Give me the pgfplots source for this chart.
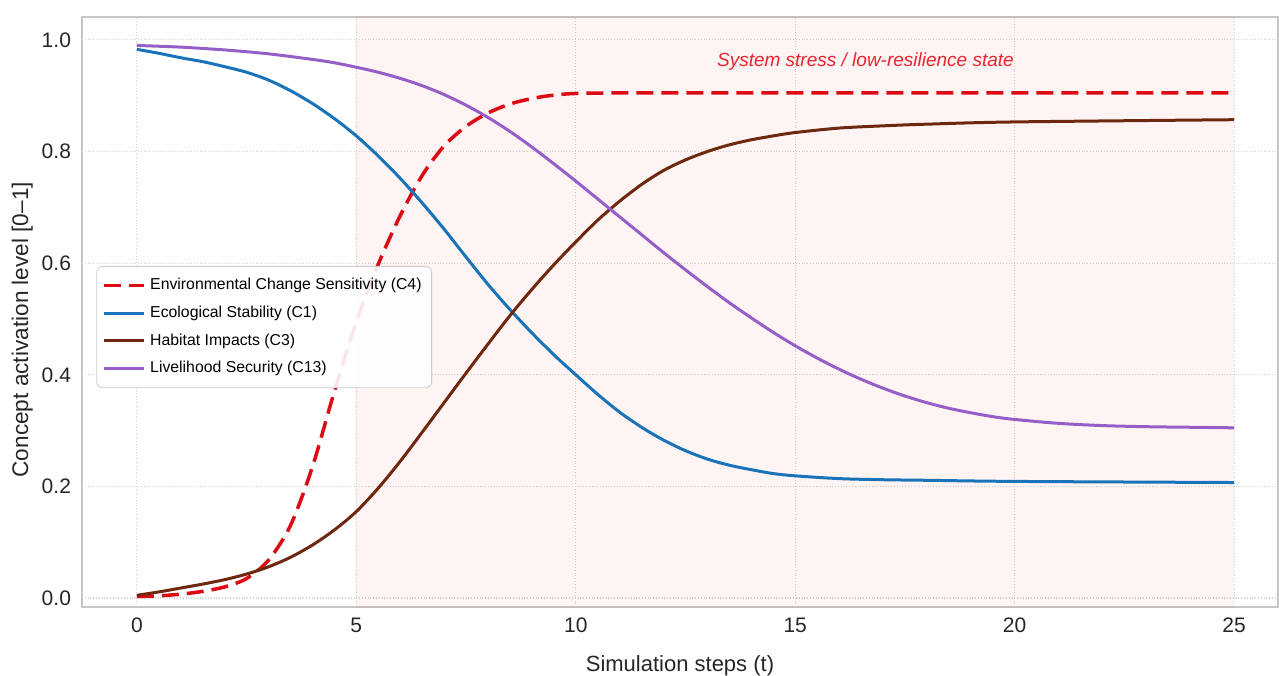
\documentclass[border=0pt]{standalone}
\usepackage{fontspec}
\setmainfont{Liberation Sans}
\usepackage{pgfplots}
\pgfplotsset{compat=1.18}
\definecolor{cRed}{RGB}{220,10,20}
\definecolor{cBlue}{RGB}{25,115,185}
\definecolor{cBrown}{RGB}{110,40,15}
\definecolor{cPurple}{RGB}{150,95,200}
\definecolor{cText}{RGB}{235,35,45}
\begin{document}
\begin{tikzpicture}
\begin{axis}[
  scale only axis, width=598pt, height=295pt,
  xmin=-1.25, xmax=26, ymin=-0.016, ymax=1.041,
  xtick={0,5,10,15,20,25}, ytick={0,0.2,0.4,0.6,0.8,1.0},
  /pgf/number format/assume math mode=true,
  tick style={draw=none},
  grid=major, grid style={densely dotted, gray!35, line width=0.6pt},
  axis line style={gray!45, line width=0.9pt},
  ticklabel style={font=\fontsize{10.5}{12}\selectfont, text=black!85},
  xticklabel style={yshift=-2pt},
  yticklabel style={/pgf/number format/fixed, /pgf/number format/fixed zerofill, /pgf/number format/precision=1, xshift=-2pt},
  xlabel={Simulation steps (t)}, ylabel={Concept activation level [0–1]},
  label style={font=\fontsize{11}{13}\selectfont, text=black!85},
  xlabel style={at={(axis description cs:0.5,0)}, anchor=center, yshift=-29.5pt},
  ylabel style={at={(axis description cs:-0.05,0.47)}, anchor=center, font=\fontsize{11.3}{13}\selectfont},
  legend cell align=left,
  legend style={at={(axis description cs:0.012,0.578)}, anchor=north west,
    draw=gray!40, rounded corners=3pt, fill=white, fill opacity=0.9, text opacity=1,
    font=\fontsize{7.9}{9.5}\selectfont, row sep=2.6pt, inner xsep=3pt, inner ysep=4pt},
  legend image code/.code={\draw[#1] (0pt,0pt) -- (17pt,0pt); \path (0pt,0pt) -- (20pt,0pt);},
]
\addplot[draw=none, fill=red, fill opacity=0.045, forget plot] coordinates {(5,-0.1) (25,-0.1) (25,1.2) (5,1.2)} -- cycle;

\addplot[cRed, line width=1.75pt, dash pattern=on 8.5pt off 4pt, smooth] coordinates {
(0,0.003) (0.5,0.004) (1,0.007) (1.5,0.012) (2,0.02) (2.5,0.035) (3,0.068) (3.5,0.13) (4,0.235) (4.5,0.37) (5,0.495) (5.5,0.598) (6,0.685) (6.5,0.757) (7,0.81) (7.5,0.845) (8,0.869) (8.5,0.885) (9,0.895) (9.5,0.901) (10,0.904) (11,0.905) (13,0.905) (16,0.905) (20,0.905) (25,0.905)};
\addlegendentry{Environmental Change Sensitivity (C4)}

\addplot[cBlue, line width=1.5pt, smooth] coordinates {
(0,0.983) (0.5,0.976) (1,0.968) (1.5,0.961) (2,0.952) (2.5,0.942) (3,0.928) (3.5,0.909) (4,0.886) (4.5,0.859) (5,0.828) (5.5,0.792) (6,0.752) (6.5,0.708) (7,0.661) (7.5,0.611) (8,0.562) (8.5,0.517) (9,0.475) (9.5,0.436) (10,0.40) (10.5,0.365) (11,0.333) (11.5,0.306) (12,0.283) (12.5,0.264) (13,0.249) (13.5,0.238) (14,0.23) (14.5,0.223) (15,0.219) (16,0.214) (17,0.212) (18,0.211) (20,0.209) (25,0.207)};
\addlegendentry{Ecological Stability (C1)}

\addplot[cBrown, line width=1.5pt, smooth] coordinates {
(0,0.005) (0.5,0.011) (1,0.018) (1.5,0.025) (2,0.033) (2.5,0.043) (3,0.056) (3.5,0.073) (4,0.095) (4.5,0.122) (5,0.155) (5.5,0.197) (6,0.245) (6.5,0.297) (7,0.35) (7.5,0.403) (8,0.455) (8.5,0.506) (9,0.553) (9.5,0.597) (10,0.638) (10.5,0.677) (11,0.711) (11.5,0.741) (12,0.766) (12.5,0.785) (13,0.80) (13.5,0.812) (14,0.821) (14.5,0.828) (15,0.834) (16,0.842) (17,0.846) (18,0.849) (20,0.853) (25,0.857)};
\addlegendentry{Habitat Impacts (C3)}

\addplot[cPurple, line width=1.5pt, smooth] coordinates {
(0,0.99) (1,0.987) (2,0.982) (3,0.975) (4,0.965) (4.5,0.959) (5,0.951) (5.5,0.942) (6,0.931) (6.5,0.918) (7,0.902) (7.5,0.883) (8,0.861) (8.5,0.836) (9,0.808) (9.5,0.778) (10,0.747) (10.5,0.715) (11,0.683) (11.5,0.651) (12,0.619) (12.5,0.588) (13,0.558) (13.5,0.529) (14,0.502) (14.5,0.476) (15,0.452) (15.5,0.43) (16,0.41) (16.5,0.392) (17,0.376) (17.5,0.362) (18,0.35) (18.5,0.34) (19,0.332) (19.5,0.325) (20,0.32) (21,0.313) (22,0.309) (23,0.307) (24,0.306) (25,0.305)};
\addlegendentry{Livelihood Security (C13)}

\node[font=\fontsize{9.5}{11}\itshape, text=cText] at (axis cs:16.6,0.962) {System stress / low-resilience state};
\end{axis}
\pgfresetboundingbox
\path[use as bounding box] (-41pt,-34pt) rectangle (598.5pt,303.5pt);
\end{tikzpicture}
\end{document}
